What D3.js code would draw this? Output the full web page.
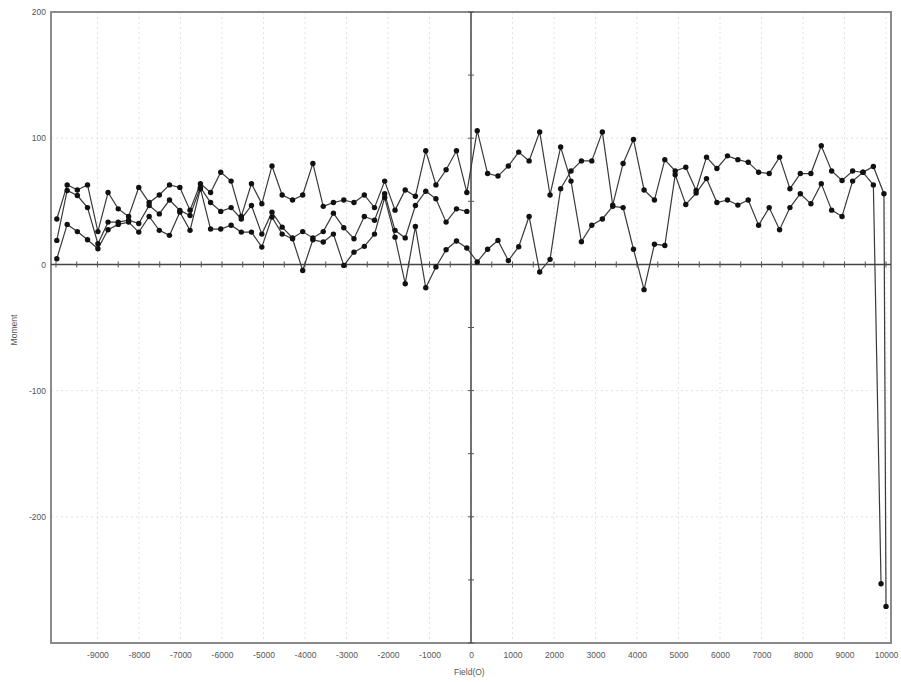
<!DOCTYPE html>
<html>
<head>
<meta charset="utf-8">
<script src="https://cdn.jsdelivr.net/npm/d3@7"></script>
<style>
  html, body { margin: 0; padding: 0; background: #ffffff; }
  svg { display: block; }
  text { font-family: Arial, "Liberation Sans", sans-serif; }
</style>
</head>
<body>
<svg id="chart" width="901" height="682"></svg>
<script>
// ---------- data ----------
const xTickValues = [-9000,-8000,-7000,-6000,-5000,-4000,-3000,-2000,-1000,0,1000,2000,3000,4000,5000,6000,7000,8000,9000,10000];
const yTickValues = [200, 100, 0, -100, -200];

// negative-field columns (from -100 Oe down to about -10000 Oe)
const fieldsLeft = [-100,-350,-600,-845,-1090,-1340,-1585,-1830,-2080,-2325,-2570,-2820,-3065,-3315,-3560,-3810,-4055,-4300,-4550,-4795,-5040,-5290,-5535,-5780,-6030,-6275,-6520,-6770,-7015,-7265,-7510,-7755,-8005,-8250,-8500,-8745,-8990,-9240,-9485,-9730,-9980];
// positive-field columns (from 150 Oe up to about 9950 Oe)
const fieldsRight = [150,400,650,900,1150,1400,1655,1905,2160,2410,2660,2910,3165,3415,3665,3915,4170,4420,4670,4920,5175,5425,5675,5925,6180,6430,6680,6930,7185,7435,7685,7935,8190,8440,8690,8940,9195,9445,9695,9950];

// sweep A (negative side, then positive side)
const sweepALeft  = [57,90,75,63,90,54,59,43,66,45,55,49,51,49,46,80,55,51,55,78,48,64,38,66,73,57,64,43,61,63,55,49,61,38,44,57,26,63,59,63,36];
const sweepARight = [106,72,70,78,89,82,105,55,93,66,18,31,36,46,45,12,-20,16,15,71,47.5,56.5,68,49,51,47,51,31,45,27.5,45,56,48,64,43,38,66,73,63];
const sweepAEndField = 9880, sweepAEndValue = -253;

// sweep B
const sweepBLeft  = [13,18.5,11.6,-2,-18.5,30,-15.3,21.6,53,24,14.3,9.7,-0.8,24,17.7,19.5,-4.8,20.3,24,37.5,13.7,25.6,25.6,31,28,28,60,27,41.4,23,27,38,25.6,33.5,31.7,27.5,12.4,19.5,26,31.7,4.5];
const sweepBRight = [2,12,19,3,14,38,-6,4,60,74,82,82,105,47,80,99,59,51,83,74,77,58.6,85,76,86,83,81,73,72,85,60,72,72,94,74,66.5,74,73,77.6,56];
const sweepBEndField = 10000, sweepBEndValue = -271;

// sweep C (negative side only)
const sweepCLeft  = [42,44,33.5,52,58,46.7,21,27,56,35,38,20.3,29,40.6,26,21,26,21,29.5,41.4,24,46.7,36,45,42,49,61,38.8,42.8,51,40,46.7,32.4,35,33.5,33.5,16.4,45,54.6,58.6,19];

// ---------- build series ----------
function zip(fs, vs) { return fs.map((f, i) => ({ f: f, v: vs[i] })); }
const seriesA = zip(fieldsLeft, sweepALeft).reverse()
  .concat(zip(fieldsRight.slice(0, sweepARight.length), sweepARight))
  .concat([{ f: sweepAEndField, v: sweepAEndValue }]);
const seriesB = zip(fieldsLeft, sweepBLeft).reverse()
  .concat(zip(fieldsRight, sweepBRight))
  .concat([{ f: sweepBEndField, v: sweepBEndValue }]);
const seriesC = zip(fieldsLeft, sweepCLeft);
const allSeries = [seriesA, seriesB, seriesC];

// ---------- chart ----------
const svg = d3.select("#chart");
const L = 51, R = 891, T = 12, B = 643;
const x = d3.scaleLinear().domain([-10120, 10120]).range([L, R]);
const y = d3.scaleLinear().domain([-300, 200]).range([B, T]);
const plainFmt = d => String(d);

// grid
svg.append("g").selectAll("line").data(xTickValues).enter().append("line")
  .attr("x1", d => x(d)).attr("x2", d => x(d)).attr("y1", T).attr("y2", B)
  .attr("stroke", "#e2e2e2").attr("stroke-width", 1).attr("stroke-dasharray", "2,3");
svg.append("g").selectAll("line").data(yTickValues.filter(d => d !== 0)).enter().append("line")
  .attr("x1", L).attr("x2", R).attr("y1", d => y(d)).attr("y2", d => y(d))
  .attr("stroke", "#e2e2e2").attr("stroke-width", 1).attr("stroke-dasharray", "2,3");

// frame
svg.append("rect").attr("x", L).attr("y", T).attr("width", R - L).attr("height", B - T)
  .attr("fill", "none").attr("stroke", "#8a8a8a").attr("stroke-width", 2);

// zero axes
svg.append("line").attr("x1", L).attr("x2", R).attr("y1", y(0)).attr("y2", y(0))
  .attr("stroke", "#444").attr("stroke-width", 1.5);
svg.append("line").attr("x1", x(0)).attr("x2", x(0)).attr("y1", T).attr("y2", B)
  .attr("stroke", "#444").attr("stroke-width", 1.5);

// minor ticks on the zero axes
const xMinor = d3.range(-10000, 10001, 500);
svg.append("g").selectAll("line").data(xMinor).enter().append("line")
  .attr("x1", d => x(d)).attr("x2", d => x(d)).attr("y1", y(0) - 3).attr("y2", y(0) + 3)
  .attr("stroke", "#555").attr("stroke-width", 1);
const yMinor = d3.range(-300, 201, 50);
svg.append("g").selectAll("line").data(yMinor).enter().append("line")
  .attr("x1", x(0) - 3).attr("x2", x(0) + 3).attr("y1", d => y(d)).attr("y2", d => y(d))
  .attr("stroke", "#555").attr("stroke-width", 1);

// tick labels via axes
const xAxis = d3.axisBottom(x).tickValues(xTickValues).tickSize(0).tickPadding(0)
  .tickFormat(plainFmt);
const gx = svg.append("g").attr("transform", `translate(0,${B + 9})`).call(xAxis);
gx.select(".domain").remove();
gx.selectAll("text").attr("font-size", 8.5).attr("fill", "#555").attr("font-family", "Arial, 'Liberation Sans', sans-serif");

const yAxis = d3.axisLeft(y).tickValues(yTickValues).tickSize(0).tickPadding(0)
  .tickFormat(plainFmt);
const gy = svg.append("g").attr("transform", `translate(${L - 5},0)`).call(yAxis);
gy.select(".domain").remove();
gy.selectAll("text").attr("font-size", 8.5).attr("fill", "#555").attr("font-family", "Arial, 'Liberation Sans', sans-serif");

// axis titles
svg.append("text").attr("x", x(0) - 17).attr("y", 675)
  .attr("font-size", 8.5).attr("fill", "#555").text("Field(O)");
svg.append("text").attr("transform", `translate(17,${y(-52)}) rotate(-90)`)
  .attr("text-anchor", "middle").attr("font-size", 8.5).attr("fill", "#555").text("Moment");

// lines
const line = d3.line().x(d => x(d.f)).y(d => y(d.v));
svg.append("g").selectAll("path").data(allSeries).enter().append("path")
  .attr("d", line).attr("fill", "none").attr("stroke", "#3a3a3a").attr("stroke-width", 1.2);

// markers
svg.append("g").selectAll("g").data(allSeries).enter().append("g")
  .selectAll("circle").data(d => d).enter().append("circle")
  .attr("cx", d => x(d.f)).attr("cy", d => y(d.v)).attr("r", 2.7).attr("fill", "#111");
</script>
</body>
</html>
